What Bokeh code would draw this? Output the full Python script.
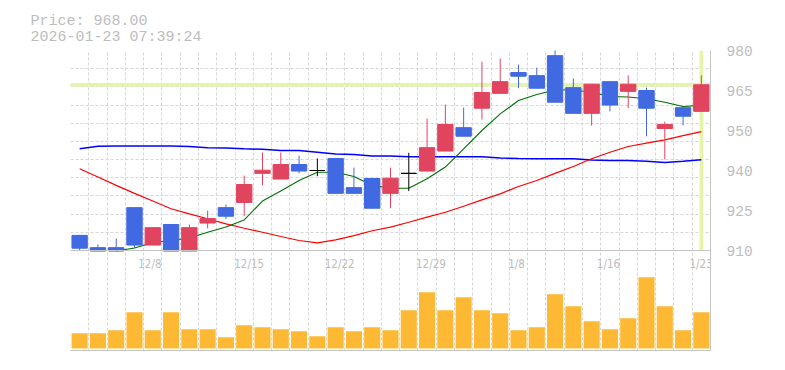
from bokeh.plotting import figure
from bokeh.models import Range1d, FixedTicker, Span
from bokeh.core.properties import value
from bokeh.embed import file_html
from bokeh.resources import INLINE

# ---------------- data ----------------
timestamp = "2026-01-23 07:39:24"

opens  = [915.3, 911.0, 911.0, 925.0, 911.9, 919.1, 909.8, 919.6, 925.0, 926.8,
          937.0, 935.0, 940.1, 938.0, 942.2, 932.0, 935.2, 930.0, 937.0, 937.8,
          944.8, 953.0, 959.8, 965.0, 972.3, 971.2, 978.2, 967.0, 958.0, 969.1,
          965.7, 966.0, 952.7, 960.0, 958.7]
highs  = [915.3, 912.1, 914.2, 925.0, 918.0, 919.1, 919.1, 924.0, 926.1, 936.2,
          944.3, 944.3, 943.2, 942.2, 942.2, 939.0, 935.2, 939.0, 944.2, 956.2,
          961.1, 960.0, 976.1, 977.2, 975.1, 974.0, 980.2, 970.2, 968.2, 969.1,
          971.3, 967.0, 955.1, 960.0, 971.3]
lows   = [909.8, 909.8, 909.8, 910.8, 911.9, 909.8, 909.8, 917.8, 921.0, 922.0,
          932.8, 935.0, 937.0, 936.0, 930.0, 930.0, 924.8, 924.8, 930.8, 937.8,
          944.8, 950.0, 955.8, 965.0, 966.8, 966.8, 961.9, 958.0, 953.7, 958.7,
          959.8, 950.0, 941.9, 953.8, 958.7]
closes = [910.8, 909.8, 909.8, 911.9, 918.0, 909.8, 918.0, 921.2, 922.0, 933.1,
          938.1, 940.1, 937.8, 938.0, 930.0, 930.0, 924.8, 935.3, 937.0, 946.0,
          954.1, 950.0, 965.3, 969.1, 971.0, 966.8, 961.9, 958.0, 968.2, 960.9,
          968.2, 959.8, 954.1, 957.0, 968.0]
volumes = [4600, 4600, 5500, 10900, 5500, 10900, 5800, 5800, 3400, 7000,
           6400, 5800, 5200, 3700, 6400, 5200, 6400, 5500, 11500, 16900,
           11500, 15400, 11500, 10600, 5500, 6400, 16300, 12700, 8200, 5800,
           9100, 21400, 12700, 5500, 10900]

# moving averages (short one starts at candle 2)
ma_short_start = 2
ma_short = [909.8, 910.9, 912.7, 913.5, 914.4, 916.4, 918.2, 920.7, 927.3, 930.8,
            934.5, 937.4, 937.4, 935.9, 932.8, 931.8, 931.8, 935.1, 939.2, 945.6,
            952.0, 957.8, 962.5, 964.6, 966.2, 966.2, 965.4, 963.9, 963.7, 963.1,
            961.9, 960.4, 960.8]
ma_mid = [938.6, 935.7, 932.8, 930.0, 927.3, 924.6, 922.8, 921.1, 919.3, 917.8,
          916.4, 914.9, 913.5, 912.7, 913.7, 915.2, 916.9, 918.2, 919.9, 921.7,
          923.4, 925.5, 927.7, 929.8, 932.4, 934.5, 937.0, 939.4, 942.1, 944.4,
          946.4, 947.6, 948.7, 950.2, 951.6]
ma_long = [945.6, 946.5, 946.6, 946.6, 946.6, 946.6, 946.4, 946.0, 945.9, 945.6,
           945.4, 945.0, 945.0, 944.4, 943.8, 943.6, 943.1, 943.1, 942.8, 942.8,
           942.8, 942.8, 942.8, 942.4, 942.2, 942.1, 942.1, 942.1, 941.7, 941.5,
           941.5, 941.2, 940.8, 941.2, 941.8]

x_tick_labels = ["12/8", "12/15", "12/22", "12/29", "1/8", "1/16", "1/23"]
x_tick_pos = [3.84, 9.27, 14.22, 19.21, 23.89, 28.92, 33.98]
y_ticks = [910, 924, 938, 952, 966, 980]
y_tick_labels = ["910", "925", "940", "950", "965", "980"]

# ---------------- styling ----------------
UP = "#e1445f"
DOWN = "#4169e1"
DOJI = "#000000"
VOL = "#fdb934"
HILITE = "#e3f5a6"
GRID = "#d6d6d6"
AXIS = "#c4c4c4"
TXT = "#bdbdbd"
MONO = "Liberation Mono"
W, H = 777, 362

n = len(closes)
idx = list(range(n))
colors = [UP if c > o else (DOWN if c < o else DOJI) for o, c in zip(opens, closes)]
tops = [max(o, c) for o, c in zip(opens, closes)]
bottoms = [min(o, c) for o, c in zip(opens, closes)]

p_lo, p_hi = y_ticks[0], y_ticks[-1]

p = figure(width=W, height=H, output_backend="svg", toolbar_location=None,
           x_range=Range1d(-0.5, n - 0.5), y_range=Range1d(875, p_hi),
           y_axis_location="right",
           min_border_left=70, min_border_right=67, min_border_top=50, min_border_bottom=12)
p.outline_line_color = None
p.extra_y_ranges = {"vol": Range1d(-600, 89400)}

# two-line header
p.title.text = f"Price: {closes[-1]:.2f}\n{timestamp}"
p.title.align = "left"
p.title.offset = -40
p.title.standoff = 9
p.title.text_font = MONO
p.title.text_font_size = "15px"
p.title.text_font_style = "normal"
p.title.text_line_height = 0.97
p.title.text_color = TXT

# grids
p.xgrid.ticker = FixedTicker(ticks=[k - 0.5 for k in range(n + 1)])
p.ygrid.ticker = FixedTicker(ticks=[p_lo + k * (p_hi - p_lo) / 11 for k in range(12)])
for g in (p.xgrid, p.ygrid):
    g.grid_line_color = GRID
    g.grid_line_dash = "3 2"
    g.grid_line_width = 1

# right price axis
ax = p.yaxis[0]
ax.ticker = FixedTicker(ticks=y_ticks)
ax.major_label_overrides = {float(t): l for t, l in zip(y_ticks, y_tick_labels)}
ax.major_tick_line_color = None
ax.minor_tick_line_color = None
ax.axis_line_color = AXIS
ax.axis_line_width = 1
ax.major_label_standoff = 10
ax.major_label_text_font = MONO
ax.major_label_text_font_size = "14.5px"
ax.major_label_text_color = TXT

# bottom axis (line only)
bx = p.xaxis[0]
bx.ticker = FixedTicker(ticks=[])
bx.major_tick_line_color = None
bx.minor_tick_line_color = None
bx.axis_line_color = AXIS
bx.major_label_text_font_size = "0px"
bx.major_label_standoff = 0

# separator line between price and volume panes
p.add_layout(Span(location=p_lo, dimension="width", line_color=AXIS, line_width=1))

# current price highlight
p.add_layout(Span(location=closes[-1], dimension="width", line_color=HILITE,
                  line_width=3.5, level="underlay"))
p.segment(x0=[idx[-1]], y0=[p_lo], x1=[idx[-1]], y1=[p_hi], line_color=HILITE, line_width=3.5)

# moving averages
p.line(idx, ma_long, line_color="#0000ff", line_width=1.5)
p.line(idx, ma_mid, line_color="#ff0000", line_width=1.2)
p.line(idx[ma_short_start:], ma_short, line_color="#007000", line_width=1.1)

# volume
p.vbar(x=idx, top=volumes, bottom=0, width=0.88, fill_color=VOL, line_color=None,
       y_range_name="vol")

# candles
p.segment(x0=idx, y0=lows, x1=idx, y1=highs, line_color=colors, line_width=1)
p.vbar(x=idx, top=tops, bottom=bottoms, width=0.84, fill_color=colors, line_color=colors,
       line_width=1)

# date labels
p.text(x=x_tick_pos, y=[p_lo] * len(x_tick_pos), text=x_tick_labels,
       text_font=value("DejaVu Sans Condensed"), text_font_size=value("11.5px"),
       text_color=TXT, text_align="center", text_baseline="alphabetic", y_offset=13)

open("out.html", "w").write(file_html(p, INLINE))
